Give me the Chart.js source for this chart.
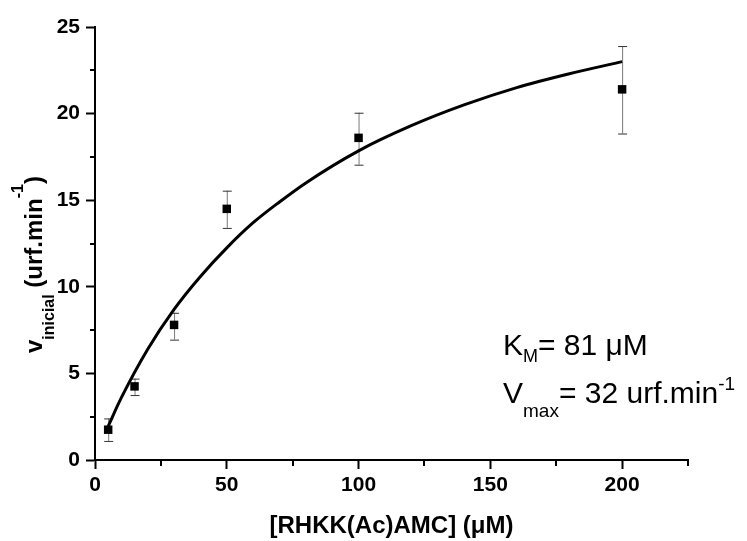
<!DOCTYPE html>
<html>
<head>
<meta charset="utf-8">
<script src="https://cdn.jsdelivr.net/npm/chart.js@4"></script>
<style>
  html, body { margin: 0; padding: 0; background: #fff; }
  #wrap { width: 747px; height: 541px; }
</style>
</head>
<body>
<div id="wrap"><canvas id="chart" width="747" height="541"></canvas></div>
<script>
// measured points, [RHKK(Ac)AMC] in uM vs initial rate
const substrate = [5, 15, 30, 50, 100, 200];
const rate = [1.75, 4.25, 7.8, 14.5, 18.6, 21.4];
const errLow = [1.1, 3.75, 6.95, 13.4, 17.05, 18.85];
const errHigh = [2.4, 4.7, 8.5, 15.55, 20.05, 23.9];

// fitted curve
const fitX = [5, 10, 20, 30, 40, 50, 60, 70, 80, 100, 120, 140, 160, 180, 200];
const fitY = [1.95, 3.6, 6.4, 8.7, 10.6, 12.25, 13.7, 14.9, 16.0, 17.85, 19.3, 20.5, 21.5, 22.3, 23.0];

const xTicksMajor = [0, 50, 100, 150, 200];
const yTicksMajor = [0, 5, 10, 15, 20, 25];

const FONT = '"Liberation Sans", Arial, sans-serif';

// draws a run of text pieces one after another (for sub/superscripts)
function drawRuns(ctx, runs) {
  var x = 0;
  runs.forEach((r) => {
    ctx.font = (r.bold ? 'bold ' : '') + r.size + 'px ' + FONT;
    ctx.fillText(r.t, x, r.dy || 0);
    x += ctx.measureText(r.t).width;
  });
}

const extras = {
  id: 'extras',
  beforeDatasetsDraw(chart) {
    const ctx = chart.ctx;
    const xs = chart.scales.x, ys = chart.scales.y;
    ctx.save();
    substrate.forEach((s, i) => {
      const px = xs.getPixelForValue(s);
      const top = ys.getPixelForValue(errHigh[i]);
      const bot = ys.getPixelForValue(errLow[i]);
      ctx.strokeStyle = '#7a7a7a';
      ctx.lineWidth = 1;
      ctx.beginPath();
      ctx.moveTo(px + 0.5, top);
      ctx.lineTo(px + 0.5, bot);
      ctx.stroke();
      ctx.strokeStyle = '#333';
      ctx.beginPath();
      ctx.moveTo(px - 4, top + 0.5);
      ctx.lineTo(px + 5, top + 0.5);
      ctx.moveTo(px - 4, bot + 0.5);
      ctx.lineTo(px + 5, bot + 0.5);
      ctx.stroke();
    });
    ctx.restore();
  },
  afterDraw(chart) {
    const ctx = chart.ctx;
    const xs = chart.scales.x, ys = chart.scales.y;
    const area = chart.chartArea;
    ctx.save();
    // minor ticks
    ctx.strokeStyle = '#000';
    ctx.lineWidth = 2;
    ctx.beginPath();
    for (var v = 25; v <= 225; v += 50) {
      const px = Math.round(xs.getPixelForValue(v));
      ctx.moveTo(px, area.bottom);
      ctx.lineTo(px, area.bottom + 6);
    }
    for (var w = 2.5; w <= 25; w += 5) {
      const py = Math.round(ys.getPixelForValue(w));
      ctx.moveTo(area.left, py);
      ctx.lineTo(area.left - 5, py);
    }
    ctx.stroke();

    ctx.fillStyle = '#000';
    ctx.textBaseline = 'alphabetic';
    ctx.textAlign = 'left';

    // x axis title
    ctx.font = 'bold 24px ' + FONT;
    const xt = '[RHKK(Ac)AMC] (\u03bcM)';
    const xw = ctx.measureText(xt).width;
    ctx.fillText(xt, (area.left + area.right) / 2 - xw / 2, 533);

    // y axis title, rotated
    ctx.save();
    ctx.translate(42, 353);
    ctx.rotate(-Math.PI / 2);
    drawRuns(ctx, [
      { t: 'v', size: 24, bold: true },
      { t: 'inicial', size: 16, bold: true, dy: 12 },
      { t: ' (urf.min', size: 24, bold: true },
      { t: '-1', size: 16, bold: true, dy: -19 },
      { t: ')', size: 24, bold: true }
    ]);
    ctx.restore();

    // fit parameters
    ctx.save();
    ctx.translate(503, 355);
    drawRuns(ctx, [
      { t: 'K', size: 30 },
      { t: 'M', size: 18, dy: 7 },
      { t: '= 81 \u03bcM', size: 30 }
    ]);
    ctx.restore();
    ctx.save();
    ctx.translate(503, 403);
    drawRuns(ctx, [
      { t: 'V', size: 30 },
      { t: 'max', size: 19, dy: 14 },
      { t: '= 32 urf.min', size: 30 },
      { t: '-1', size: 19, dy: -13 }
    ]);
    ctx.restore();
    ctx.restore();
  }
};

const points = substrate.map((s, i) => ({ x: s, y: rate[i] }));
const curve = fitX.map((s, i) => ({ x: s, y: fitY[i] }));

new Chart(document.getElementById('chart'), {
  type: 'scatter',
  data: {
    datasets: [{
      data: curve,
      showLine: true,
      borderColor: '#000',
      borderWidth: 3,
      pointRadius: 0,
      cubicInterpolationMode: 'monotone',
      order: 1
    }, {
      data: points,
      pointStyle: 'rect',
      pointRadius: 6,
      pointBorderWidth: 0,
      backgroundColor: '#000',
      borderColor: '#000',
      order: 0
    }]
  },
  options: {
    responsive: false,
    animation: false,
    clip: false,
    layout: { padding: { left: 0, top: 27, right: 59, bottom: 0 } },
    plugins: { legend: { display: false }, tooltip: { enabled: false } },
    scales: {
      x: {
        type: 'linear',
        min: 0, max: 225,
        afterFit: (s) => { s.height = 81; },
        border: { display: true, color: '#000', width: 2 },
        grid: { drawOnChartArea: false, tickLength: 9, tickWidth: 2,
          tickColor: (c) => xTicksMajor.includes(c.tick && c.tick.value) ? '#000' : 'rgba(0,0,0,0)' },
        ticks: {
          stepSize: 25,
          padding: 4,
          color: '#000',
          font: { family: FONT, size: 21, weight: 'bold' },
          maxRotation: 0,
          autoSkip: false,
          callback: (v) => xTicksMajor.includes(v) ? String(v) : ''
        }
      },
      y: {
        type: 'linear',
        min: 0, max: 25,
        afterFit: (s) => { s.width = 95; },
        border: { display: true, color: '#000', width: 2 },
        grid: { drawOnChartArea: false, tickLength: 9, tickWidth: 2,
          tickColor: (c) => yTicksMajor.includes(c.tick && c.tick.value) ? '#000' : 'rgba(0,0,0,0)' },
        ticks: {
          stepSize: 2.5,
          padding: 6,
          color: '#000',
          font: { family: FONT, size: 21, weight: 'bold' },
          autoSkip: false,
          callback: (v) => yTicksMajor.includes(v) ? String(v) : ''
        }
      }
    }
  },
  plugins: [extras]
});
</script>
</body>
</html>
